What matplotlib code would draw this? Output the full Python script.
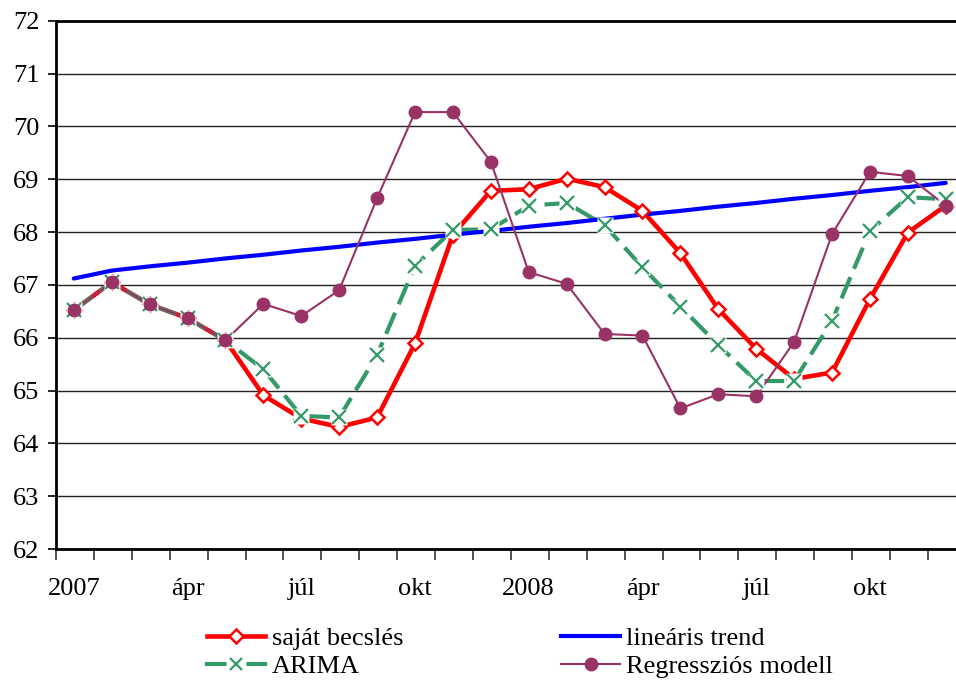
import matplotlib
matplotlib.use("Agg")
import matplotlib.pyplot as plt
from matplotlib.lines import Line2D
from matplotlib.legend_handler import HandlerTuple
import numpy as np

plt.rcParams['font.family'] = ['Liberation Serif', 'DejaVu Serif']

months = ['2007', 'febr', 'márc', 'ápr', 'máj', 'jún', 'júl', 'aug', 'szept', 'okt', 'nov', 'dec',
          '2008', 'febr', 'márc', 'ápr', 'máj', 'jún', 'júl', 'aug', 'szept', 'okt', 'nov', 'dec']
tick_labels = ['2007', 'ápr', 'júl', 'okt', '2008', 'ápr', 'júl', 'okt']

sajat = [66.52, 67.05, 66.63, 66.37, 65.95, 64.91, 64.47, 64.31, 64.49, 65.89, 67.95, 68.78,
         68.81, 69.01, 68.85, 68.40, 67.60, 66.54, 65.79, 65.22, 65.34, 66.73, 67.99, 68.50]
arima = [66.52, 67.05, 66.63, 66.37, 65.95, 65.40, 64.52, 64.49, 65.67, 67.36, 68.04, 68.05,
         68.50, 68.55, 68.13, 67.33, 66.59, 65.86, 65.18, 65.18, 66.32, 68.02, 68.66, 68.62]
trend = [67.12, 67.27, 67.35, 67.42, 67.50, 67.57, 67.65, 67.72, 67.80, 67.87, 67.95, 68.02,
         68.10, 68.17, 68.25, 68.33, 68.40, 68.48, 68.55, 68.63, 68.70, 68.78, 68.85, 68.93]
regr = [66.52, 67.05, 66.63, 66.37, 65.95, 66.64, 66.41, 66.90, 68.64, 70.27, 70.27, 69.33,
        67.24, 67.02, 66.07, 66.04, 64.66, 64.93, 64.89, 65.92, 67.96, 69.14, 69.06, 68.50]

RED = '#FF0000'
BLUE = '#0000FF'
GREEN = '#339966'
PURPLE = '#993366'

x = np.arange(len(months))

fig = plt.figure(figsize=(9.56, 6.8), dpi=100)
ax = fig.add_axes([56/956, 1-549/680, 1-56/956, (549-20.7)/680])

# lines first
ax.plot(x, sajat, color=RED, lw=3.3, zorder=3, solid_capstyle='round')
ax.plot(x, arima, color=GREEN, lw=3.0, ls=(0, (5.5, 2.2)), zorder=3)
ax.plot(x, trend, color=BLUE, lw=3.0, zorder=3, solid_capstyle='round')
ax.plot(x, regr, color=PURPLE, lw=1.5, zorder=3)

# markers on top
ax.plot(x, sajat, ls='none', marker='D', ms=7.5, mfc='white', mec=RED, mew=1.8, zorder=4)
ax.plot(x, arima, ls='none', marker='s', ms=11, mfc='white', mec='none', zorder=5)
ax.plot(x, arima, ls='none', marker='x', ms=10, mec=GREEN, mew=1.6, zorder=6)
ax.plot(x, regr, ls='none', marker='o', ms=9, mfc=PURPLE, mec=PURPLE, zorder=7)

ax.set_ylim(62, 72)
ax.set_xlim(-0.47, 23.27)
ax.set_yticks(range(62, 73))
ax.set_xticks(x[::3])
ax.set_xticklabels(tick_labels)
ax.set_xticks(np.arange(len(months)) - 0.47, minor=True)
ax.tick_params(axis='x', which='major', length=0, pad=21, labelsize=19)
ax.tick_params(axis='x', which='minor', length=8, width=1.2, color='#333333', direction='out')
ax.tick_params(axis='y', length=6, width=1.2, pad=6, labelsize=19, direction='out')

ax.grid(axis='y', color='#222222', lw=1.0, zorder=1)
ax.set_axisbelow(True)
for s in ['left', 'bottom', 'top']:
    ax.spines[s].set_linewidth(2)
    ax.spines[s].set_color('black')
ax.spines['right'].set_visible(False)

h_red = Line2D([], [], color=RED, lw=3.3, marker='D', ms=7.5, mfc='white', mec=RED, mew=1.8)
h_green_line = Line2D([], [], color=GREEN, lw=3.0)
h_green_box = Line2D([], [], ls='none', marker='s', ms=15, mfc='white', mec='none')
h_green_x = Line2D([], [], ls='none', marker='x', ms=9, mec=GREEN, mew=1.6)
h_blue = Line2D([], [], color=BLUE, lw=3.0)
h_purple = Line2D([], [], color=PURPLE, lw=1.5, marker='o', ms=9, mfc=PURPLE, mec=PURPLE)

fig.legend([h_red, (h_green_line, h_green_box, h_green_x), h_blue, h_purple],
           ['saját becslés', 'ARIMA', 'lineáris trend', 'Regressziós modell'],
           handler_map={tuple: HandlerTuple(ndivide=1, pad=0)},
           ncol=2, loc='upper left', bbox_to_anchor=(207/956, 1-627/680),
           frameon=False, fontsize=19, handlelength=2.2, handletextpad=0.25,
           columnspacing=6.0, labelspacing=0.15, borderpad=0, borderaxespad=0)

fig.savefig('out.png', dpi=100)
